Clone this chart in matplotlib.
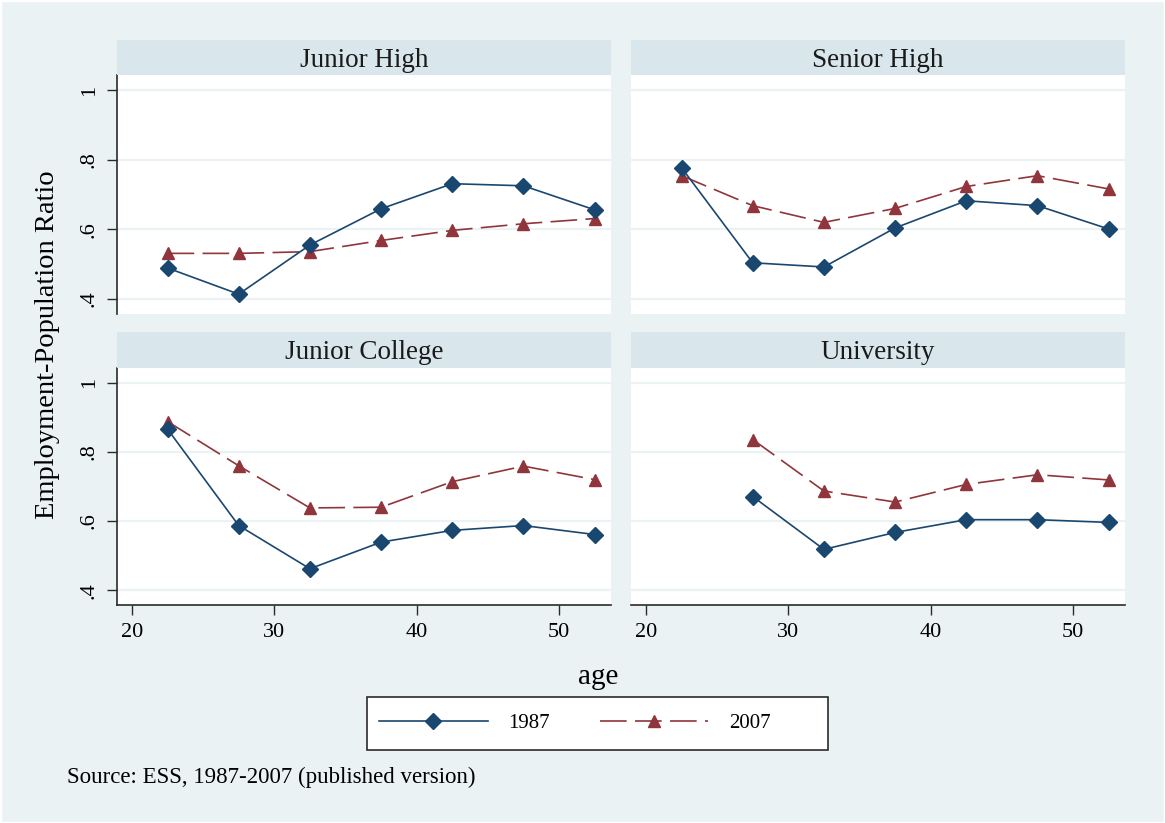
import numpy as np
import matplotlib.pyplot as plt
from matplotlib.lines import Line2D
from matplotlib.patches import Rectangle

plt.rcParams['font.family'] = ['Liberation Serif', 'DejaVu Serif']

# age group midpoints
age = [22.5, 27.5, 32.5, 37.5, 42.5, 47.5, 52.5]
panels = ['Junior High', 'Senior High', 'Junior College', 'University']

# employment-population ratio by education, 1987 and 2007
jh_1987 = [0.489, 0.414, 0.555, 0.659, 0.731, 0.725, 0.656]
jh_2007 = [0.531, 0.531, 0.536, 0.568, 0.597, 0.616, 0.631]
sh_1987 = [0.777, 0.504, 0.492, 0.604, 0.682, 0.668, 0.601]
sh_2007 = [0.754, 0.668, 0.620, 0.660, 0.723, 0.754, 0.716]
jc_1987 = [0.866, 0.587, 0.462, 0.539, 0.573, 0.587, 0.561]
jc_2007 = [0.888, 0.760, 0.638, 0.640, 0.714, 0.759, 0.720]
un_1987 = [np.nan, 0.671, 0.518, 0.567, 0.604, 0.604, 0.596]
un_2007 = [np.nan, 0.836, 0.687, 0.655, 0.706, 0.734, 0.719]

series_1987 = [jh_1987, sh_1987, jc_1987, un_1987]
series_2007 = [jh_2007, sh_2007, jc_2007, un_2007]

yticks = [0.4, 0.6, 0.8, 1.0]
ytick_labels = ['.4', '.6', '.8', '1']
xticks = [20, 30, 40, 50]

bg = '#EAF2F3'
strip = '#D9E6EB'
navy = '#1A476F'
maroon = '#90353B'
axis_col = '#2b2b2b'

W, H = 1165, 823
fig = plt.figure(figsize=(W / 100, H / 100), dpi=100, facecolor=bg)
fig.patches.append(Rectangle((0, 0), 1, 1, transform=fig.transFigure,
                             facecolor='none', edgecolor='white', lw=2.5))

# panel geometry in pixels: (strip_top, plot_top, plot_bottom)
cols = [117, 631]
rows = [(40, 75, 314), (332, 368, 605)]
pw = 494

for i, name in enumerate(panels):
    r, c = divmod(i, 2)
    htop, ptop, pbot = rows[r]
    x0 = cols[c]
    ax = fig.add_axes([x0 / W, 1 - pbot / H, pw / W, (pbot - ptop) / H])
    hx = fig.add_axes([x0 / W, 1 - ptop / H, pw / W, (ptop - htop) / H])
    hx.set_facecolor(strip)
    hx.set_xticks([])
    hx.set_yticks([])
    for s in hx.spines.values():
        s.set_visible(False)
    hx.text(0.5, 0.42, name, ha='center', va='center', fontsize=19.5,
            transform=hx.transAxes, color='#1a1a1a')

    ax.set_facecolor('white')
    ax.set_xlim(18.95, 53.65)
    ax.set_ylim(0.357, 1.043)
    for yv in yticks:
        ax.axhline(yv, color=bg, lw=1.6, zorder=0)

    ax.plot(age, series_1987[i], color=navy, lw=1.2, marker='D',
            markersize=8, zorder=3)
    ax.plot(age, series_2007[i], color=maroon, lw=1.2, marker='^',
            markersize=9, dashes=(16, 5), zorder=2)

    for s in ['top', 'right']:
        ax.spines[s].set_visible(False)
    ax.spines['left'].set_visible(c == 0)
    ax.spines['bottom'].set_visible(r == 1)
    ax.spines['left'].set_color(axis_col)
    ax.spines['bottom'].set_color(axis_col)
    ax.spines['left'].set_linewidth(1.2)
    ax.spines['bottom'].set_linewidth(1.2)

    if c == 0:
        ax.set_yticks(yticks)
        ax.set_yticklabels(ytick_labels, rotation=90, va='center')
        ax.tick_params(axis='y', length=7, width=1.0, color=axis_col,
                       labelsize=16, pad=6)
    else:
        ax.set_yticks([])
    if r == 1:
        ax.set_xticks(xticks)
        ax.tick_params(axis='x', length=7, width=1.0, color=axis_col,
                       labelsize=16, pad=6)
    else:
        ax.set_xticks([])

fig.text(48 / W, 1 - 345 / H, 'Employment-Population Ratio', rotation=90,
         ha='center', va='center', fontsize=20.5)
fig.text(598 / W, 1 - 677 / H, 'age', ha='center', va='center', fontsize=21)

# legend box, drawn separately so the keys sit left of centre
fig.patches.append(Rectangle((367 / W, 1 - 750 / H), 461 / W, 53 / H,
                             transform=fig.transFigure, facecolor='white',
                             edgecolor=axis_col, lw=1.2, zorder=1))
handles = [
    Line2D([], [], color=navy, lw=1.2, marker='D', markersize=8),
    Line2D([], [], color=maroon, lw=1.2, marker='^', markersize=9,
           dashes=(16, 5)),
]
leg = fig.legend(handles, ['1987', '2007'], loc='center',
                 bbox_to_anchor=(575 / W, 1 - 723.5 / H), ncol=2,
                 fontsize=15, frameon=False,
                 handlelength=5.2, handletextpad=1.0, columnspacing=2.4,
                 borderpad=0.0, borderaxespad=0)
leg.set_zorder(2)

fig.text(67 / W, 1 - 777 / H, 'Source: ESS, 1987-2007 (published version)',
         ha='left', va='center', fontsize=16.5)

fig.savefig('out.png', dpi=100, facecolor=bg)
